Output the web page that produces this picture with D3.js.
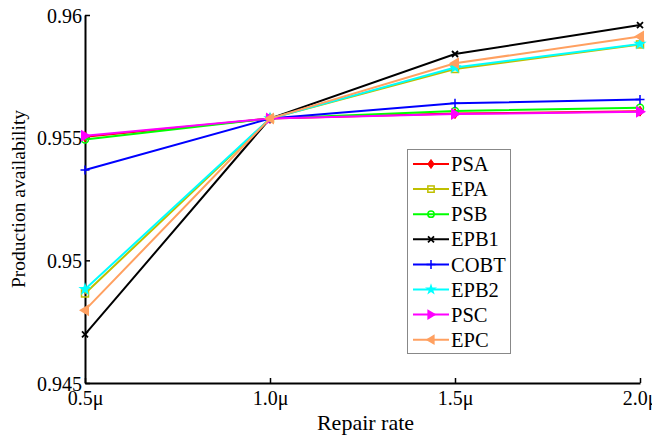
<!DOCTYPE html>
<html><head><meta charset="utf-8">
<script src="https://cdn.jsdelivr.net/npm/d3@7"></script>
<style>body{margin:0;background:#fff}svg{display:block}text{font-family:"Liberation Serif","Times New Roman",serif}</style>
</head><body><svg id="c" width="652" height="435"></svg>
<script>
const categories = ["0.5μ","1.0μ","1.5μ","2.0μ"];
const seriesNames = ["PSA","EPA","PSB","EPB1","COBT","EPB2","PSC","EPC"];
const PSA  = [0.95504,0.95578,0.95598,0.95608];
const EPA  = [0.94865,0.95578,0.95780,0.95880];
const PSB  = [0.95493,0.95578,0.95609,0.95622];
const EPB1 = [0.94698,0.95578,0.95841,0.95959];
const COBT = [0.95368,0.95578,0.95640,0.95656];
const EPB2 = [0.94882,0.95578,0.95786,0.95882];
const PSC  = [0.95508,0.95578,0.95596,0.95606];
const EPC  = [0.94797,0.95578,0.95803,0.95912];
const yTicks = [0.945,0.95,0.955,0.96];
const yTickLabels = ["0.945","0.95","0.955","0.96"];

const values = [PSA,EPA,PSB,EPB1,COBT,EPB2,PSC,EPC];
const colors = ["#ff0000","#bfbf00","#00ff00","#000000","#0000ff","#00ffff","#ff00ff","#ffa060"];
const markers = ["diamond","square","circle","x","plus","star","tri-right","tri-left"];

const svg = d3.select("#c");
const L=85,R=640,T=15,B=383;
const x = d3.scalePoint().domain(categories).range([L,R]);
const y = d3.scaleLinear().domain([0.945,0.96]).range([B,T]);

// axes
const xa = svg.append("g").attr("transform",`translate(0,${B})`)
  .call(d3.axisBottom(x).tickSizeInner(-5).tickSizeOuter(0).tickPadding(10));
const ya = svg.append("g").attr("transform",`translate(${L},0)`)
  .call(d3.axisLeft(y).tickValues(yTicks).tickFormat((d,i)=>yTickLabels[i]).tickSizeInner(-5).tickSizeOuter(0).tickPadding(3));
[xa,ya].forEach(g=>{
  g.select(".domain").attr("stroke","#000").attr("stroke-width",2);
  g.selectAll(".tick line").attr("stroke","#000").attr("stroke-width",1.5);
  g.selectAll("text").attr("font-size",20).attr("fill","#000").attr("font-family",'"Liberation Serif",serif');
});
xa.selectAll("text").attr("dy","0.6em");
ya.selectAll("text").attr("dy","0.36em");

svg.append("text").attr("x",(L+R)/2+3).attr("y",430).attr("text-anchor","middle")
  .attr("font-size",22).text("Repair rate");
svg.append("text").attr("transform","translate(25,199) rotate(-90)").attr("text-anchor","middle")
  .attr("font-size",19.5).text("Production availability");

function drawMarker(g,type,cx,cy,color,s){
  s = s||1;
  switch(type){
    case "diamond":
      g.append("path").attr("d",`M${cx},${cy-5*s}L${cx+3.5*s},${cy}L${cx},${cy+5*s}L${cx-3.5*s},${cy}Z`)
        .attr("fill",color).attr("stroke",color).attr("stroke-width",1);break;
    case "square":
      g.append("rect").attr("x",cx-3.5*s).attr("y",cy-3.5*s).attr("width",7*s).attr("height",7*s)
        .attr("fill","none").attr("stroke",color).attr("stroke-width",1.5);break;
    case "circle":
      g.append("circle").attr("cx",cx).attr("cy",cy).attr("r",3.5*s)
        .attr("fill","none").attr("stroke",color).attr("stroke-width",1.5);break;
    case "x":
      g.append("path").attr("d",`M${cx-3},${cy-3}L${cx+3},${cy+3}M${cx-3},${cy+3}L${cx+3},${cy-3}`)
        .attr("stroke",color).attr("stroke-width",1.8);break;
    case "plus":
      g.append("path").attr("d",`M${cx},${cy-4.5}L${cx},${cy+4.5}M${cx-4.5},${cy}L${cx+4.5},${cy}`)
        .attr("stroke",color).attr("stroke-width",1.5);break;
    case "star":
      g.append("path").attr("d",d3.symbol().type(d3.symbolStar).size(55*s*s)())
        .attr("transform",`translate(${cx},${cy})`).attr("fill",color);break;
    case "tri-right":
      g.append("path").attr("d",`M${cx+6*s},${cy}L${cx-4*s},${cy-6*s}L${cx-4*s},${cy+6*s}Z`).attr("fill",color);break;
    case "tri-left":
      g.append("path").attr("d",`M${cx-6*s},${cy}L${cx+4*s},${cy-6*s}L${cx+4*s},${cy+6*s}Z`).attr("fill",color);break;
  }
}

const line = d3.line().x((d,i)=>x(categories[i])).y(d=>y(d));
values.forEach((vals,k)=>{
  const g = svg.append("g");
  g.append("path").datum(vals).attr("d",line).attr("fill","none")
    .attr("stroke",colors[k]).attr("stroke-width",2);
  vals.forEach((v,i)=>drawMarker(g,markers[k],x(categories[i]),y(v),colors[k],1));
});

// legend
const lg = svg.append("g");
lg.append("rect").attr("x",407.5).attr("y",149.5).attr("width",103).attr("height",204)
  .attr("fill","#fff").attr("stroke","#888").attr("stroke-width",1);
seriesNames.forEach((n,k)=>{
  const cy = 164 + k*25.1;
  lg.append("line").attr("x1",413).attr("x2",449).attr("y1",cy).attr("y2",cy)
    .attr("stroke",colors[k]).attr("stroke-width",2);
  drawMarker(lg,markers[k],431,cy,colors[k],0.9);
  lg.append("text").attr("x",451).attr("y",cy).attr("dy","0.35em").attr("font-size",20.5).text(n);
});
</script></body></html>
